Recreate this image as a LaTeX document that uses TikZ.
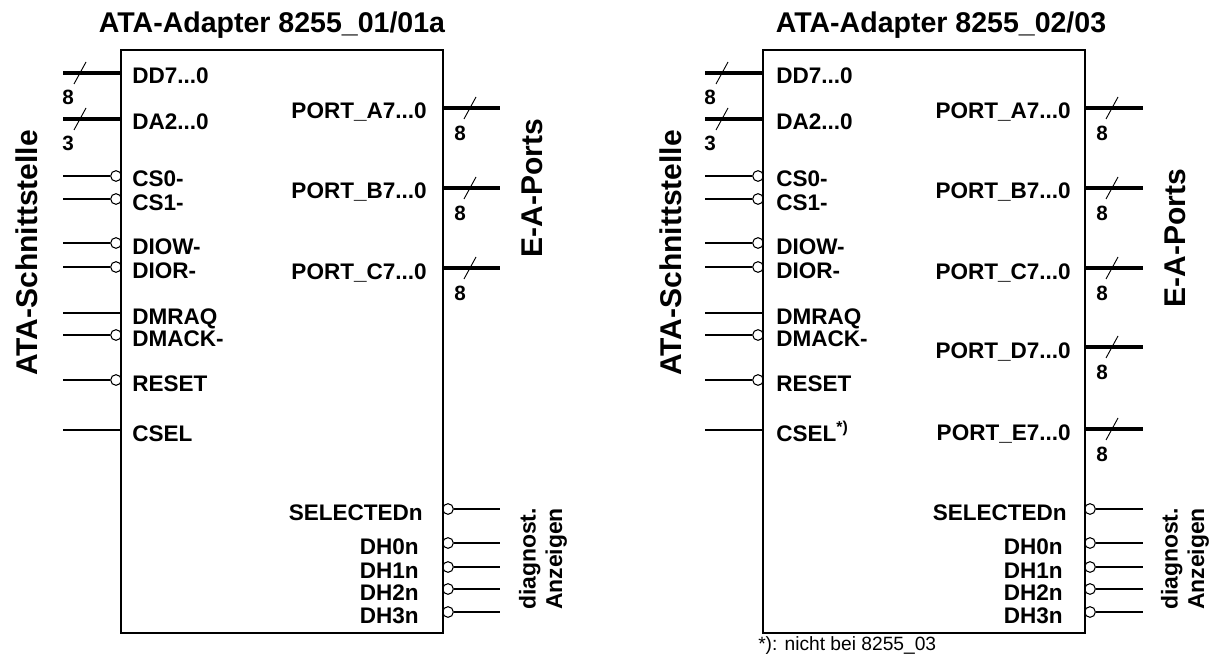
\documentclass[tikz,border=0pt]{standalone}
\usepackage{fontspec}
\setmainfont{Liberation Sans}
\begin{document}
\begin{tikzpicture}[x=0.75pt,y=-0.75pt,
		kasten/.style={line width=1.5pt},
		sig/.style={line width=1.1pt},
		bus/.style={line width=3.6pt},
		strich/.style={line width=0.7pt},
		inv/.style={circle, draw, line width=0.8pt, minimum size=8pt, inner sep=0pt},
		titel/.style={font=\bfseries\fontsize{21.4}{24}\selectfont, inner sep=0pt, anchor=base},
		pinl/.style={font=\bfseries\fontsize{16.9}{19}\selectfont, inner sep=0pt, anchor=base west},
		pinr/.style={font=\bfseries\fontsize{16.9}{19}\selectfont, inner sep=0pt, anchor=base east},
		breite/.style={font=\bfseries\fontsize{15.5}{17}\selectfont, inner sep=0pt},
		seite/.style={font=\bfseries\fontsize{22.5}{25}\selectfont, rotate=90, inner sep=0pt},
		diag/.style={font=\bfseries\fontsize{17.2}{20}\selectfont, rotate=90, align=left, inner sep=0pt},
		fussnote/.style={font=\fontsize{14.4}{16}\selectfont, inner sep=0pt, anchor=base west}]
		
		\useasboundingbox (0,0) rectangle (1219,659);
		
		% ----- ATA-Adapter 8255_01/01a -----
		\node[titel] (titelA) at (272,33) {ATA-Adapter 8255\_01/01a};
		\node[seite] (ataA) at (27,253) {ATA-Schnittstelle};
		\node[seite] (portsA) at (532,188) {E-A-Ports};
		\node[diag] (diagA) at (543,559) {diagnost.\\Anzeigen};
		
		% Baustein
		\draw[kasten] (121,50) rectangle (443,633);
		
		% Busse links
		\coordinate (ddA) at (121,73);  \coordinate (ddeA) at (63,73);
		\coordinate (daA) at (121,119); \coordinate (daeA) at (63,119);
		\draw[bus] (ddeA) -- (ddA);
		\draw[bus] (daeA) -- (daA);
		\draw[strich] (80,73) ++(-6,11) -- ++(12,-22);
		\draw[strich] (80,119) ++(-6,11) -- ++(12,-22);
		\node[breite] (ddwA) at (68,97) {8};
		\node[breite] (dawA) at (68,143) {3};
		\node[pinl] (ddlA) at (132,84) {DD7...0};
		\node[pinl] (dalA) at (132,130) {DA2...0};
		
		% Steuersignale links (o = low-aktiv)
		\node[inv] (cs0iA) at (116,176) {};  \coordinate (cs0eA) at (63,176);
		\node[inv] (cs1iA) at (116,199) {};  \coordinate (cs1eA) at (63,199);
		\node[inv] (diowiA) at (116,243) {}; \coordinate (dioweA) at (63,243);
		\node[inv] (dioriA) at (116,267) {}; \coordinate (dioreA) at (63,267);
		\coordinate (dmrqA) at (121,313);    \coordinate (dmrqeA) at (63,313);
		\node[inv] (dmakiA) at (116,335) {}; \coordinate (dmakeA) at (63,335);
		\node[inv] (rstiA) at (116,380) {};  \coordinate (rsteA) at (63,380);
		\coordinate (cselA) at (121,430);    \coordinate (cseleA) at (63,430);
		\draw[sig] (cs0eA) -- (cs0iA);
		\draw[sig] (cs1eA) -- (cs1iA);
		\draw[sig] (dioweA) -- (diowiA);
		\draw[sig] (dioreA) -- (dioriA);
		\draw[sig] (dmrqeA) -- (dmrqA);
		\draw[sig] (dmakeA) -- (dmakiA);
		\draw[sig] (rsteA) -- (rstiA);
		\draw[sig] (cseleA) -- (cselA);
		
		\node[pinl] (cs0lA) at (132,187) {CS0-};
		\node[pinl] (cs1lA) at (132,210) {CS1-};
		\node[pinl] (diowlA) at (132,254) {DIOW-};
		\node[pinl] (diorlA) at (132,278) {DIOR-};
		\node[pinl] (dmrqlA) at (132,324) {DMRAQ};
		\node[pinl] (dmaklA) at (132,346) {DMACK-};
		\node[pinl] (rstlA) at (132,391) {RESET};
		\node[pinl] (csellA) at (132,441) {CSEL};
		
		% Ports rechts
		\coordinate (paA) at (443,108); \coordinate (paeA) at (500,108);
		\coordinate (pbA) at (443,188); \coordinate (pbeA) at (500,188);
		\coordinate (pcA) at (443,268); \coordinate (pceA) at (500,268);
		\draw[bus] (paA) -- (paeA);
		\draw[bus] (pbA) -- (pbeA);
		\draw[bus] (pcA) -- (pceA);
		\draw[strich] (470,108) ++(-6,11) -- ++(12,-22);
		\draw[strich] (470,188) ++(-6,11) -- ++(12,-22);
		\draw[strich] (470,268) ++(-6,11) -- ++(12,-22);
		\node[breite] (pawA) at (460,133) {8};
		\node[breite] (pbwA) at (460,213) {8};
		\node[breite] (pcwA) at (460,293) {8};
		\node[pinr] (palA) at (427,119) {PORT\_A7...0};
		\node[pinr] (pblA) at (427,199) {PORT\_B7...0};
		\node[pinr] (pclA) at (427,279) {PORT\_C7...0};
		
		% Diagnose-Ausgaenge
		\node[inv] (seliA) at (448,509) {}; \coordinate (seleA) at (500,509);
		\node[inv] (dh0iA) at (448,543) {}; \coordinate (dh0eA) at (500,543);
		\node[inv] (dh1iA) at (448,567) {}; \coordinate (dh1eA) at (500,567);
		\node[inv] (dh2iA) at (448,589) {}; \coordinate (dh2eA) at (500,589);
		\node[inv] (dh3iA) at (448,612) {}; \coordinate (dh3eA) at (500,612);
		\draw[sig] (seliA) -- (seleA);
		\draw[sig] (dh0iA) -- (dh0eA);
		\draw[sig] (dh1iA) -- (dh1eA);
		\draw[sig] (dh2iA) -- (dh2eA);
		\draw[sig] (dh3iA) -- (dh3eA);
		\node[pinr] (sellA) at (423,520) {SELECTEDn};
		\node[pinr] (dh0lA) at (419,554) {DH0n};
		\node[pinr] (dh1lA) at (419,578) {DH1n};
		\node[pinr] (dh2lA) at (419,600) {DH2n};
		\node[pinr] (dh3lA) at (419,623) {DH3n};
		
		% ----- ATA-Adapter 8255_02/03 -----
		\begin{scope}[shift={(642,0)}]
			
			\node[titel] (titelB) at (299,33) {ATA-Adapter 8255\_02/03};
			\node[seite] (ataB) at (29,253) {ATA-Schnittstelle};
			\node[seite] (portsB) at (533,238) {E-A-Ports};
			\node[diag] (diagB) at (543,559) {diagnost.\\Anzeigen};
			
			% Baustein
			\draw[kasten] (121,50) rectangle (443,633);
			
			% Busse links
			\coordinate (ddB) at (121,73);  \coordinate (ddeB) at (63,73);
			\coordinate (daB) at (121,119); \coordinate (daeB) at (63,119);
			\draw[bus] (ddeB) -- (ddB);
			\draw[bus] (daeB) -- (daB);
			\draw[strich] (80,73) ++(-6,11) -- ++(12,-22);
			\draw[strich] (80,119) ++(-6,11) -- ++(12,-22);
			\node[breite] (ddwB) at (68,97) {8};
			\node[breite] (dawB) at (68,143) {3};
			\node[pinl] (ddlB) at (134,84) {DD7...0};
			\node[pinl] (dalB) at (134,130) {DA2...0};
			
			% Steuersignale links
			\node[inv] (cs0iB) at (116,176) {};  \coordinate (cs0eB) at (63,176);
			\node[inv] (cs1iB) at (116,199) {};  \coordinate (cs1eB) at (63,199);
			\node[inv] (diowiB) at (116,243) {}; \coordinate (dioweB) at (63,243);
			\node[inv] (dioriB) at (116,267) {}; \coordinate (dioreB) at (63,267);
			\coordinate (dmrqB) at (121,313);    \coordinate (dmrqeB) at (63,313);
			\node[inv] (dmakiB) at (116,335) {}; \coordinate (dmakeB) at (63,335);
			\node[inv] (rstiB) at (116,380) {};  \coordinate (rsteB) at (63,380);
			\coordinate (cselB) at (121,430);    \coordinate (cseleB) at (63,430);
			\draw[sig] (cs0eB) -- (cs0iB);
			\draw[sig] (cs1eB) -- (cs1iB);
			\draw[sig] (dioweB) -- (diowiB);
			\draw[sig] (dioreB) -- (dioriB);
			\draw[sig] (dmrqeB) -- (dmrqB);
			\draw[sig] (dmakeB) -- (dmakiB);
			\draw[sig] (rsteB) -- (rstiB);
			\draw[sig] (cseleB) -- (cselB);
			
			\node[pinl] (cs0lB) at (134,187) {CS0-};
			\node[pinl] (cs1lB) at (134,210) {CS1-};
			\node[pinl] (diowlB) at (134,254) {DIOW-};
			\node[pinl] (diorlB) at (134,278) {DIOR-};
			\node[pinl] (dmrqlB) at (134,324) {DMRAQ};
			\node[pinl] (dmaklB) at (134,346) {DMACK-};
			\node[pinl] (rstlB) at (134,391) {RESET};
			\node[pinl] (csellB) at (134,441) {CSEL\textsuperscript{*)}};
			
			% Ports rechts
			\coordinate (paB) at (443,108); \coordinate (paeB) at (501,108);
			\coordinate (pbB) at (443,188); \coordinate (pbeB) at (501,188);
			\coordinate (pcB) at (443,268); \coordinate (pceB) at (501,268);
			\coordinate (pdB) at (443,347); \coordinate (pdeB) at (501,347);
			\coordinate (peB) at (443,429); \coordinate (peeB) at (501,429);
			\draw[bus] (paB) -- (paeB);
			\draw[bus] (pbB) -- (pbeB);
			\draw[bus] (pcB) -- (pceB);
			\draw[bus] (pdB) -- (pdeB);
			\draw[bus] (peB) -- (peeB);
			\draw[strich] (470,108) ++(-6,11) -- ++(12,-22);
			\draw[strich] (470,188) ++(-6,11) -- ++(12,-22);
			\draw[strich] (470,268) ++(-6,11) -- ++(12,-22);
			\draw[strich] (470,347) ++(-6,11) -- ++(12,-22);
			\draw[strich] (470,429) ++(-6,11) -- ++(12,-22);
			\node[breite] (pawB) at (460,133) {8};
			\node[breite] (pbwB) at (460,213) {8};
			\node[breite] (pcwB) at (460,293) {8};
			\node[breite] (pdwB) at (460,372) {8};
			\node[breite] (pewB) at (460,454) {8};
			\node[pinr] (palB) at (429,119) {PORT\_A7...0};
			\node[pinr] (pblB) at (429,199) {PORT\_B7...0};
			\node[pinr] (pclB) at (429,279) {PORT\_C7...0};
			\node[pinr] (pdlB) at (429,358) {PORT\_D7...0};
			\node[pinr] (pelB) at (429,440) {PORT\_E7...0};
			
			% Diagnose-Ausgaenge
			\node[inv] (seliB) at (448,509) {}; \coordinate (seleB) at (501,509);
			\node[inv] (dh0iB) at (448,543) {}; \coordinate (dh0eB) at (501,543);
			\node[inv] (dh1iB) at (448,567) {}; \coordinate (dh1eB) at (501,567);
			\node[inv] (dh2iB) at (448,589) {}; \coordinate (dh2eB) at (501,589);
			\node[inv] (dh3iB) at (448,612) {}; \coordinate (dh3eB) at (501,612);
			\draw[sig] (seliB) -- (seleB);
			\draw[sig] (dh0iB) -- (dh0eB);
			\draw[sig] (dh1iB) -- (dh1eB);
			\draw[sig] (dh2iB) -- (dh2eB);
			\draw[sig] (dh3iB) -- (dh3eB);
			\node[pinr] (sellB) at (425,520) {SELECTEDn};
			\node[pinr] (dh0lB) at (421,554) {DH0n};
			\node[pinr] (dh1lB) at (421,578) {DH1n};
			\node[pinr] (dh2lB) at (421,600) {DH2n};
			\node[pinr] (dh3lB) at (421,623) {DH3n};
			
			% Fussnote
			\node[fussnote] (fussB) at (116,650) {*): nicht bei 8255\_03};
			
		\end{scope}
		
	\end{tikzpicture}
\end{document}
